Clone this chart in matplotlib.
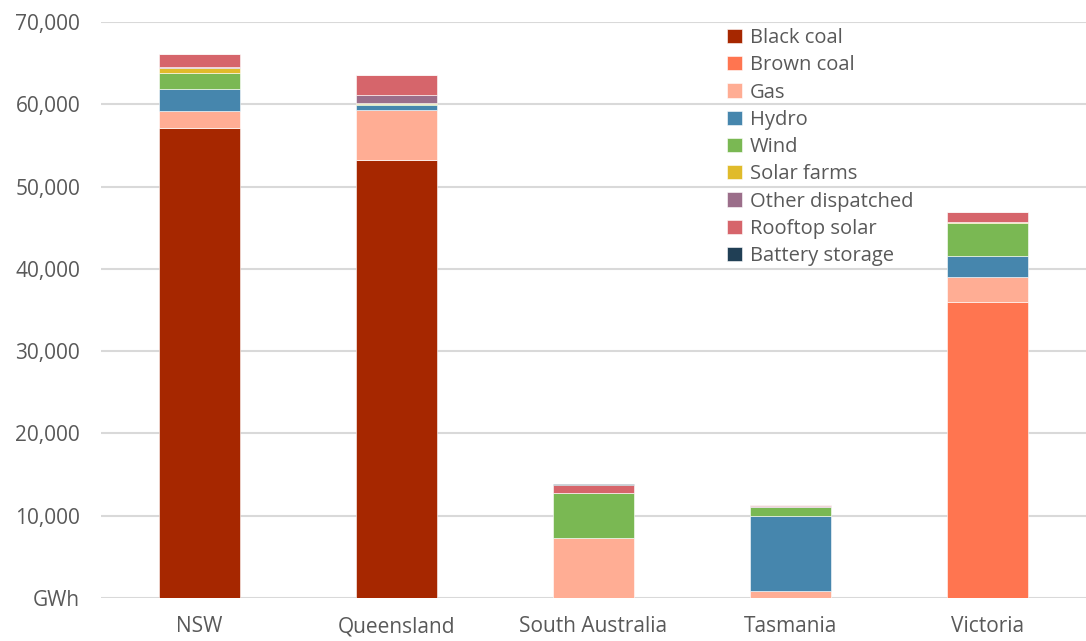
import numpy as np
from matplotlib import pyplot as plt
from matplotlib.ticker import FuncFormatter

states = ["NSW", "Queensland", "South Australia", "Tasmania", "Victoria"]

# GWh by fuel
black_coal = [57100, 53200, 0, 0, 0]
brown_coal = [0, 0, 0, 0, 35950]
gas = [2100, 6100, 7250, 850, 3000]
hydro = [2600, 650, 0, 9150, 2600]
wind = [2050, 100, 5500, 1100, 4050]
solar_farms = [550, 150, 0, 0, 50]
other_dispatched = [100, 950, 0, 50, 0]
rooftop_solar = [1600, 2450, 1000, 150, 1200]
battery_storage = [0, 0, 100, 0, 0]

series = [
    ("Black coal", black_coal, "#A62700"),
    ("Brown coal", brown_coal, "#FF7550"),
    ("Gas", gas, "#FFAD94"),
    ("Hydro", hydro, "#4686AD"),
    ("Wind", wind, "#7AB853"),
    ("Solar farms", solar_farms, "#E0BB2B"),
    ("Other dispatched", other_dispatched, "#9B6E8A"),
    ("Rooftop solar", rooftop_solar, "#D6656B"),
    ("Battery storage", battery_storage, "#203F55"),
]

plt.rcParams['font.family'] = ['Open Sans', 'DejaVu Sans']
text_color = "#595959"

fig = plt.figure(figsize=(10.86, 6.41), dpi=100)
ax = fig.add_axes([101 / 1086, 43 / 641, 985 / 1086, 576 / 641])

x = np.arange(len(states))
bottom = np.zeros(len(states))
for name, values, color in series:
    values = np.array(values, dtype=float)
    ax.bar(x, values, 0.41, bottom=bottom, color=color, label=name,
           edgecolor="white", linewidth=0.4, zorder=3)
    bottom += values

ax.set_xlim(-0.5, 4.5)
ax.set_ylim(0, 70000)
ax.set_yticks(np.arange(0, 70001, 10000))


def fmt(v, pos):
    if v == 0:
        return "GWh"
    return "{:,.0f}".format(v)


ax.yaxis.set_major_formatter(FuncFormatter(fmt))
ax.set_xticks(x)
ax.set_xticklabels(states)
ax.grid(axis="y", color="#D9D9D9", linewidth=1.5, zorder=0)
for s in ax.spines.values():
    s.set_visible(False)
ax.tick_params(axis="both", length=0, labelsize=15, colors=text_color)
ax.tick_params(axis="y", pad=15)
ax.tick_params(axis="x", pad=13)

leg = ax.legend(loc="upper left", bbox_to_anchor=(727 / 1086, 1 - 28 / 641),
                bbox_transform=fig.transFigure, frameon=False, fontsize=14.5,
                handlelength=0.72, handleheight=0.72, handletextpad=0.4,
                labelspacing=0.36, borderaxespad=0, borderpad=0)
for t in leg.get_texts():
    t.set_color(text_color)

fig.savefig("out.png", dpi=100)
